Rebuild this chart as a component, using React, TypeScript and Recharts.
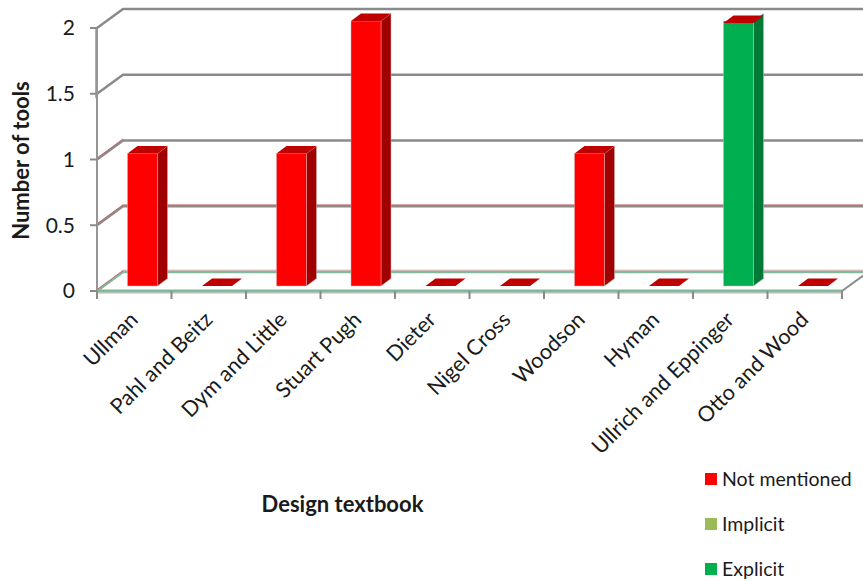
import React from "react";
import { BarChart, Bar, XAxis, YAxis, CartesianGrid, Legend } from "recharts";

const categories = ["Ullman", "Pahl and Beitz", "Dym and Little", "Stuart Pugh", "Dieter", "Nigel Cross", "Woodson", "Hyman", "Ullrich and Eppinger", "Otto and Wood"];
const explicitValues = [0, 0, 0, 0, 0, 0, 0, 0, 2, 0];
const implicitValues = [0, 0, 0, 0, 0, 0, 0, 0, 0, 0];
const notMentionedValues = [1, 0, 1, 2, 0, 0, 1, 0, 0, 0];
const yTicks = [0, 0.5, 1, 1.5, 2];

const rows = categories.map((name, i) => ({
  name,
  Explicit: explicitValues[i],
  Implicit: implicitValues[i],
  "Not mentioned": notMentionedValues[i],
}));

const FONT = "Lato, Carlito, sans-serif";
const GRID = "#8a8a8a";
const FRINGE = "#e0a0a0";
const FLOOR = "#82b89c";
const WIDTH = 863;
const HEIGHT = 581;
const LEFT = 97;
const RIGHT = 842;
const TOP = 28;
const BOTTOM = 291;
const BAND = (RIGHT - LEFT) / categories.length;
// Depth of the back wall and of each block
const WALL_DX = 26;
const WALL_DY = 19;
const BAR_DX = 10;
const BAR_DY = 7.5;
const BAR_SHIFT_X = 8.5;
const BAR_SHIFT_Y = 5;

// One gridline: diagonal on the side wall, then the run along the back wall
function WallLine(props: any) {
  const { y1 } = props;
  const floor = Math.abs(y1 - BOTTOM) < 1;
  const ceiling = Math.abs(y1 - TOP) < 1;
  const backY = y1 - WALL_DY;
  const tinted = y1 > 200;
  const tintedDiagonal = y1 > 100;
  return (
    <g>
      {tinted && <line x1={LEFT + WALL_DX} x2={WIDTH} y1={backY - 1.8} y2={backY - 1.8} stroke={FRINGE} strokeWidth={1} />}
      <path d={`M${LEFT} ${y1}L${LEFT + WALL_DX} ${backY}L${WIDTH + 10} ${backY}`} fill="none" stroke={floor ? FLOOR : GRID} strokeWidth={2.5} />
      {tintedDiagonal && <line x1={LEFT} y1={y1 - 1.5} x2={LEFT + WALL_DX} y2={backY - 1.5} stroke="#c86a6a" strokeWidth={1} />}
      {ceiling && <line x1={LEFT - 1} x2={LEFT - 1} y1={TOP} y2={TOP + 70} stroke="#c23a3a" strokeWidth={1} />}
      {floor && <line x1={RIGHT} y1={BOTTOM} x2={RIGHT + WALL_DX} y2={backY} stroke={GRID} strokeWidth={2} />}
      {floor && <line x1={LEFT} x2={RIGHT} y1={BOTTOM + 2} y2={BOTTOM + 2} stroke={FRINGE} strokeWidth={1} />}
      {floor && <line x1={LEFT} x2={RIGHT} y1={BOTTOM} y2={BOTTOM} stroke={FLOOR} strokeWidth={3} />}
    </g>
  );
}

// Extruded block: shaded side and top faces behind a flat front
function makeBlock(front: string, side: string, withTop: boolean) {
  return function Block(props: any) {
    const { x, y, width, height } = props;
    const scale = 132.5 / 131.5;
    const left = x + BAR_SHIFT_X;
    const right = left + width;
    const bottom = y + height - BAR_SHIFT_Y;
    const h = height * scale;
    const top = bottom - h;
    return (
      <g>
        {h > 0 && (
          <>
            <path d={`M${right} ${bottom}L${right + BAR_DX} ${bottom - BAR_DY}L${right + BAR_DX} ${top - BAR_DY}L${right} ${top}Z`} fill={side} stroke="#c9b5b5" strokeWidth={0.5} />
            <rect x={left} y={top} width={width} height={h} fill={front} stroke="#d8b0b0" strokeWidth={0.5} />
          </>
        )}
        {withTop && (
          <path d={`M${left} ${top}L${left + BAR_DX} ${top - BAR_DY}L${right + BAR_DX} ${top - BAR_DY}L${right} ${top}Z`} fill="#C00000" />
        )}
      </g>
    );
  };
}

// Rotated category label plus the tick marks on the category boundaries
function CategoryTick(props: any) {
  const { x, y, payload, index } = props;
  const lx = x - BAND / 2;
  const last = index === categories.length - 1;
  const tx = x + 5;
  const ty = y + 22;
  return (
    <g>
      <line x1={lx} x2={lx} y1={BOTTOM} y2={BOTTOM + 8} stroke={GRID} strokeWidth={2} />
      {last && <line x1={lx + BAND} x2={lx + BAND} y1={BOTTOM} y2={BOTTOM + 8} stroke={GRID} strokeWidth={2} />}
      <text x={tx} y={ty} textAnchor="end" fontFamily={FONT} fontSize={21.5} fill="#1a1a1a" transform={`rotate(-45 ${tx} ${ty})`}>
        {payload.value}
      </text>
    </g>
  );
}

function KeyList(props: any) {
  const items = [...(props.payload || [])].reverse();
  return (
    <div style={{ fontFamily: FONT, fontSize: 19.5, color: "#1a1a1a" }}>
      {items.map((item: any) => (
        <div key={item.value} style={{ position: "relative", height: 45, lineHeight: "22px", paddingLeft: 17, whiteSpace: "nowrap" }}>
          <span style={{ position: "absolute", left: 0, top: 5, width: 12, height: 12, background: item.color }} />
          {item.value}
        </div>
      ))}
    </div>
  );
}

export default function App() {
  return (
    <div style={{ position: "absolute", left: 0, top: 0, width: WIDTH, height: HEIGHT, overflow: "hidden", background: "#fff" }}>
      <BarChart
        width={WIDTH}
        height={HEIGHT}
        data={rows}
        margin={{ top: TOP, right: WIDTH - RIGHT, bottom: 0, left: 0 }}
        barCategoryGap={0}
        barSize={30}
      >
        <CartesianGrid vertical={false} horizontal={(p: any) => <WallLine key={p.key ?? p.y1} {...p} />} />
        <XAxis
          dataKey="name"
          interval={0}
          height={HEIGHT - BOTTOM}
          axisLine={false}
          tickLine={false}
          tick={(p: any) => <CategoryTick {...p} />}
          label={{ value: "Design textbook", position: "insideBottom", dx: -127, dy: -64, fontFamily: FONT, fontSize: 22, fontWeight: 700, fill: "#1a1a1a" }}
        />
        <YAxis
          width={LEFT}
          domain={[0, 2]}
          ticks={yTicks}
          interval={0}
          axisLine={{ stroke: "#969696", strokeWidth: 2 }}
          tickLine={{ stroke: GRID, strokeWidth: 2 }}
          tickSize={7}
          tickMargin={15}
          tick={{ fontFamily: FONT, fontSize: 21, fill: "#1a1a1a" }}
          label={{ value: "Number of tools", angle: -90, position: "insideLeft", dx: 16, dy: 1, textAnchor: "middle", fontFamily: FONT, fontSize: 22, fontWeight: 700, fill: "#1a1a1a" }}
        />
        <Legend
          layout="vertical"
          verticalAlign="middle"
          align="center"
          content={<KeyList />}
          wrapperStyle={{ left: 705, top: 468, width: 158 }}
        />
        <Bar dataKey="Explicit" stackId="a" fill="#00B050" isAnimationActive={false} shape={makeBlock("#00B050", "#007A37", false)} />
        <Bar dataKey="Implicit" stackId="a" fill="#9BBB59" isAnimationActive={false} shape={makeBlock("#9BBB59", "#6f8a3c", false)} />
        <Bar dataKey="Not mentioned" stackId="a" fill="#FF0000" isAnimationActive={false} shape={makeBlock("#FF0000", "#A00000", true)} />
      </BarChart>
    </div>
  );
}
